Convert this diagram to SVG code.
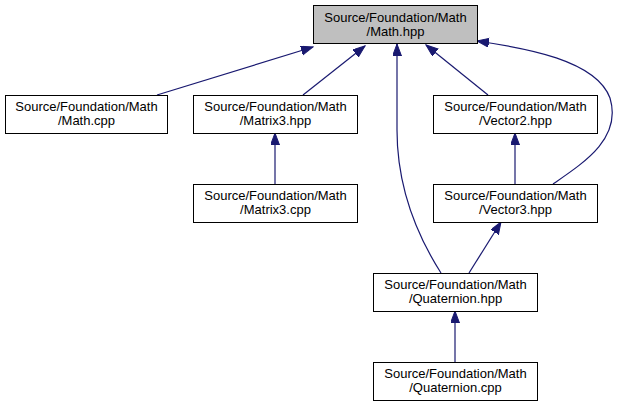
<svg xmlns="http://www.w3.org/2000/svg" width="622" height="409" viewBox="0 0 622 409">
<style>
.box{fill:#ffffff;stroke:#000000;stroke-width:1}
.root{fill:#bfbfbf}
.t{font-family:"Liberation Sans",Arial,sans-serif;font-size:13px;fill:#000000;text-anchor:middle}
.e{fill:none;stroke:#191970;stroke-width:1.2}
</style>
<defs>
<marker id="ah" markerWidth="13" markerHeight="10" refX="12" refY="4.5" orient="auto" markerUnits="userSpaceOnUse">
<path d="M0,0 L12,4.5 L0,9 Z" fill="#191970" stroke="#191970" stroke-width="1"/>
</marker>
</defs>
<rect width="622" height="409" fill="#ffffff"/>
<g id="edges">
<path class="e" d="M157,95 L313,47" marker-end="url(#ah)"/>
<path class="e" d="M303,95 L365,46" marker-end="url(#ah)"/>
<path class="e" d="M441,273 C420,240 397,190 397,130 L397,44" marker-end="url(#ah)"/>
<path class="e" d="M488,95 L426,45" marker-end="url(#ah)"/>
<path class="e" d="M553,184 C585,162 622,138 610,98 C596,60 525,48 477,41" marker-end="url(#ah)"/>
<path class="e" d="M275,184 L275,133" marker-end="url(#ah)"/>
<path class="e" d="M515,184 L515,133" marker-end="url(#ah)"/>
<path class="e" d="M469,273 L501,222" marker-end="url(#ah)"/>
<path class="e" d="M455,362 L455,311" marker-end="url(#ah)"/>
</g>
<g id="math_hpp">
<rect class="box root" x="313.5" y="5.5" width="164" height="38"/>
<text class="t" x="395.5" y="22">Source/Foundation/Math</text>
<text class="t" x="395.5" y="36">/Math.hpp</text>
</g>
<g id="math_cpp">
<rect class="box" x="5.5" y="95.5" width="162" height="38"/>
<text class="t" x="86.5" y="111">Source/Foundation/Math</text>
<text class="t" x="86.5" y="125">/Math.cpp</text>
</g>
<g id="matrix3_hpp">
<rect class="box" x="193.5" y="95.5" width="164" height="38"/>
<text class="t" x="275.5" y="111">Source/Foundation/Math</text>
<text class="t" x="275.5" y="125">/Matrix3.hpp</text>
</g>
<g id="matrix3_cpp">
<rect class="box" x="193.5" y="184.5" width="164" height="38"/>
<text class="t" x="275.5" y="200">Source/Foundation/Math</text>
<text class="t" x="275.5" y="214">/Matrix3.cpp</text>
</g>
<g id="vector2_hpp">
<rect class="box" x="433.5" y="95.5" width="164" height="38"/>
<text class="t" x="515.5" y="111">Source/Foundation/Math</text>
<text class="t" x="515.5" y="125">/Vector2.hpp</text>
</g>
<g id="vector3_hpp">
<rect class="box" x="433.5" y="184.5" width="164" height="38"/>
<text class="t" x="515.5" y="200">Source/Foundation/Math</text>
<text class="t" x="515.5" y="214">/Vector3.hpp</text>
</g>
<g id="quaternion_hpp">
<rect class="box" x="373.5" y="273.5" width="164" height="38"/>
<text class="t" x="455.5" y="289">Source/Foundation/Math</text>
<text class="t" x="455.5" y="303">/Quaternion.hpp</text>
</g>
<g id="quaternion_cpp">
<rect class="box" x="373.5" y="362.5" width="164" height="38"/>
<text class="t" x="455.5" y="378">Source/Foundation/Math</text>
<text class="t" x="455.5" y="392">/Quaternion.cpp</text>
</g>
</svg>
